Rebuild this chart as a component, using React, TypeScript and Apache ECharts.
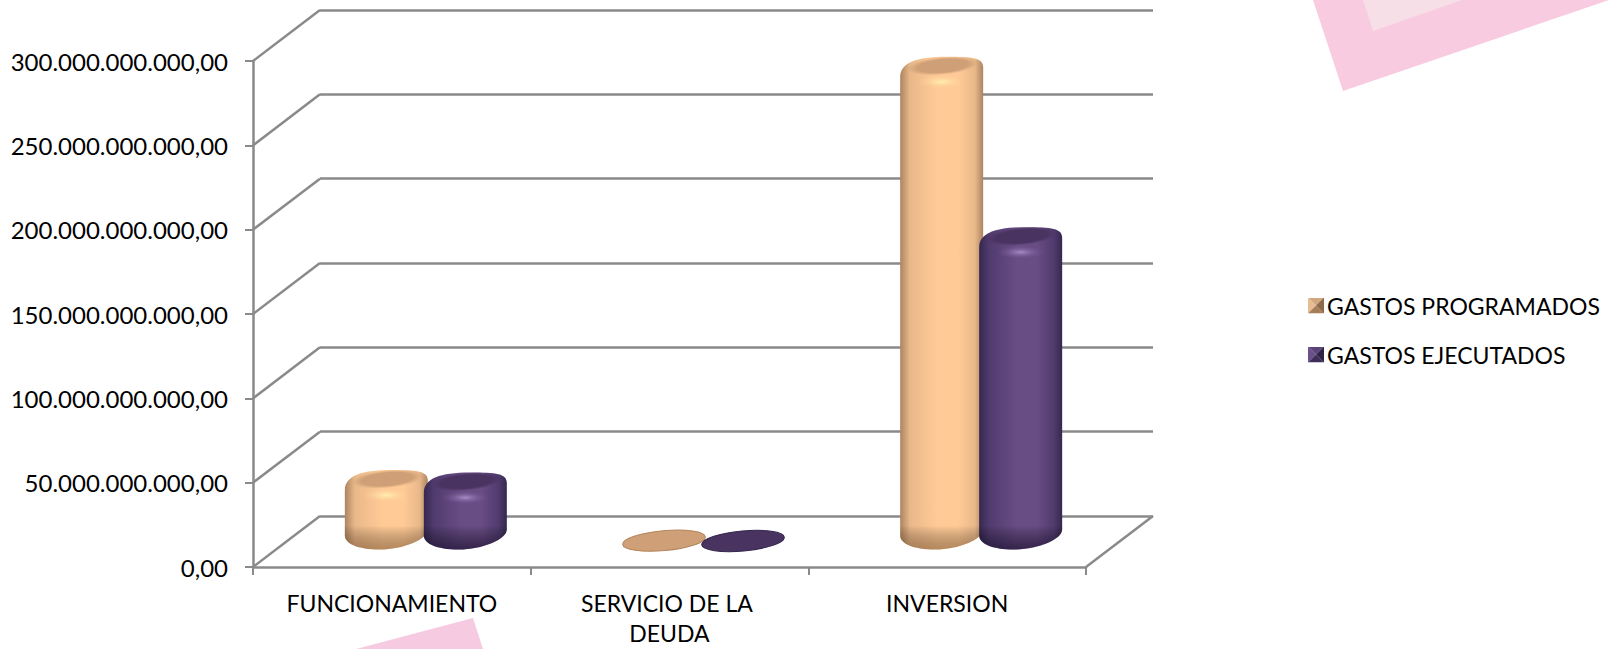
import React, { useEffect, useRef } from "react";
import * as echarts from "echarts";

const categories = ["FUNCIONAMIENTO", "SERVICIO DE LA DEUDA", "INVERSION"];
const programados = [37e9, 0.5e9, 282e9];
const ejecutados = [35.5e9, 0.3e9, 181e9];
const yTicks = [0, 50e9, 100e9, 150e9, 200e9, 250e9, 300e9];
const seriesNames = ["GASTOS PROGRAMADOS", "GASTOS EJECUTADOS"];

const FONT = "Lato";
const DEPTH_X = 67;
const DEPTH_Y = 51;
const BAR_W = 83;
const GRID_COLOR = "#8a8a8a";

const ORANGE = { edge: "#ad8460", mid: "#e9b88a", light: "#ffca96", cap: "#cfa077", hi: "#fff0b0", low: "rgba(110,70,35,0.5)", rim: "#b5855c" };
const PURPLE = { edge: "#35284f", mid: "#513b6e", light: "#684c84", cap: "#493360", hi: "#a78cc6", low: "rgba(20,10,40,0.6)", rim: "#33264d" };

echarts.graphic.registerShape(
  "cylBody",
  echarts.graphic.extendShape({
    shape: { L: 0, R: 0, yT: 0, yB: 0 },
    buildPath(ctx: any, s: any) {
      const w = s.R - s.L;
      const cx = (s.L + s.R) / 2;
      ctx.moveTo(s.L, s.yT + 11);
      ctx.bezierCurveTo(s.L, s.yT - 3, s.L + 0.2 * w, s.yT - 9, cx + 0.05 * w, s.yT - 9);
      ctx.bezierCurveTo(s.R - 0.12 * w, s.yT - 9, s.R, s.yT - 8, s.R, s.yT + 2);
      ctx.lineTo(s.R, s.yB - 12);
      ctx.bezierCurveTo(s.R, s.yB - 2, s.R - 0.3 * w, s.yB + 8, s.L + 0.42 * w, s.yB + 8);
      ctx.bezierCurveTo(s.L + 0.15 * w, s.yB + 8, s.L, s.yB + 2, s.L, s.yB - 6);
      ctx.closePath();
    },
  })
);

function bevelIcon(top: string, left: string, right: string, bottom: string) {
  const svg =
    `<svg xmlns="http://www.w3.org/2000/svg" width="16" height="16">` +
    `<polygon points="0,0 16,0 8,8" fill="${top}"/><polygon points="0,0 0,16 8,8" fill="${left}"/>` +
    `<polygon points="16,0 16,16 8,8" fill="${right}"/><polygon points="0,16 16,16 8,8" fill="${bottom}"/></svg>`;
  return "image://data:image/svg+xml," + encodeURIComponent(svg);
}

function fmt(v: number) {
  const s = String(Math.round(v)).replace(/\B(?=(\d{3})+$)/g, ".");
  return s + ",00";
}

function cylinder(side: number, pal: typeof ORANGE) {
  return (params: any, api: any) => {
    const i = api.value(0);
    const p = api.coord([i, api.value(1)]);
    const b = api.coord([i, 0]);
    const cx = p[0] + DEPTH_X / 2 + 0.5 + side * 39.5;
    const yT = p[1] - DEPTH_Y / 2;
    const yB = b[1] - DEPTH_Y / 2;
    const tilt = 0.09;
    if (yB - yT < 10) {
      return {
        type: "ellipse",
        x: cx,
        y: yT,
        rotation: tilt,
        shape: { cx: 0, cy: 0, rx: BAR_W / 2, ry: 10 },
        style: { fill: pal.cap, stroke: pal.rim, lineWidth: 1 },
      };
    }
    const L = cx - BAR_W / 2;
    const R = cx + BAR_W / 2;
    const h = yB - yT + 17;
    const bottomStart = Math.max(0, 1 - 24 / h);
    const topEnd = Math.min(1, 26 / h);
    return {
      type: "group",
      children: [
        {
          type: "cylBody",
          shape: { L, R, yT, yB },
          style: {
            fill: new echarts.graphic.LinearGradient(0, 0, 1, 0, [
              { offset: 0, color: pal.edge },
              { offset: 0.12, color: pal.mid },
              { offset: 0.45, color: pal.light },
              { offset: 0.7, color: pal.light },
              { offset: 0.9, color: pal.mid },
              { offset: 1, color: pal.edge },
            ]),
          },
        },
        {
          type: "cylBody",
          shape: { L, R, yT, yB },
          style: {
            fill: new echarts.graphic.LinearGradient(0, 0, 0, 1, [
              { offset: 0, color: "rgba(255,255,255,0)" },
              { offset: topEnd, color: "rgba(255,255,255,0)" },
              { offset: bottomStart, color: "rgba(0,0,0,0)" },
              { offset: 1, color: pal.low },
            ]),
          },
        },
        {
          type: "ellipse",
          x: cx,
          y: yT + 16,
          shape: { cx: 0, cy: 0, rx: BAR_W * 0.3, ry: 7 },
          style: {
            fill: new echarts.graphic.RadialGradient(0.5, 0.5, 0.5, [
              { offset: 0, color: pal.hi },
              { offset: 1, color: pal.light + "00" },
            ]),
          },
        },
        {
          type: "ellipse",
          x: cx + 1,
          y: yT,
          rotation: tilt,
          shape: { cx: 0, cy: 0, rx: BAR_W * 0.43, ry: 9 },
          style: {
            fill: new echarts.graphic.RadialGradient(0.5, 0.5, 0.5, [
              { offset: 0, color: pal.cap },
              { offset: 0.72, color: pal.cap },
              { offset: 1, color: pal.cap + "00" },
            ]),
          },
        },
      ],
    };
  };
}

function diagonal(params: any, api: any) {
  const p = api.coord([0, api.value(0)]);
  const x0 = params.coordSys.x;
  const lines: any[] = [
    {
      type: "line",
      shape: { x1: x0, y1: p[1], x2: x0 + DEPTH_X, y2: p[1] - DEPTH_Y },
      style: { stroke: GRID_COLOR, lineWidth: 2.5 },
    },
  ];
  if (api.value(0) === 0) {
    const xr = x0 + params.coordSys.width;
    lines.push({
      type: "line",
      shape: { x1: xr, y1: p[1], x2: xr + DEPTH_X, y2: p[1] - DEPTH_Y },
      style: { stroke: GRID_COLOR, lineWidth: 2.5 },
    });
  }
  return { type: "group", children: lines };
}

export default function App() {
  const ref = useRef<HTMLDivElement>(null);
  useEffect(() => {
    document.body.style.margin = "0";
    const chart = echarts.init(ref.current!, null, { renderer: "svg" });
    const axisLine = { lineStyle: { color: GRID_COLOR, width: 2.5 } };
    chart.setOption({
      animation: false,
      backgroundColor: "#ffffff",
      graphic: [
        { type: "polygon", z: -10, shape: { points: [[1313, 0], [1343, 91], [1609, 0]] }, style: { fill: "#f9cbe0" } },
        { type: "polygon", z: -9, shape: { points: [[1363, 0], [1373, 31], [1462, 0]] }, style: { fill: "#f6dfe6" } },
        { type: "polygon", z: -10, shape: { points: [[356, 649], [473, 618], [483, 649]] }, style: { fill: "#f6cbe2" } },
      ],
      grid: [
        { left: 253, top: 61, width: 833, height: 506, outerBoundsMode: "none" },
        { left: 253 + DEPTH_X, top: 61 - DEPTH_Y, width: 833, height: 506, outerBoundsMode: "none" },
      ],
      xAxis: [
        {
          type: "category",
          gridIndex: 0,
          data: categories,
          axisLine,
          axisTick: { show: true, length: 8, lineStyle: { color: GRID_COLOR, width: 2 } },
          axisLabel: {
            color: "#000",
            fontFamily: FONT,
            fontSize: 23,
            margin: 21,
            lineHeight: 30,
            width: 232,
            overflow: "break",
            interval: 0,
          },
        },
        { type: "category", gridIndex: 1, data: categories, show: false },
      ],
      yAxis: [
        {
          type: "value",
          gridIndex: 0,
          min: 0,
          max: 300e9,
          interval: 50e9,
          axisLine: { show: true, ...axisLine },
          axisTick: { show: true, length: 8, lineStyle: { color: GRID_COLOR, width: 2 } },
          splitLine: { show: false },
          axisLabel: { color: "#000", fontFamily: FONT, fontSize: 24, margin: 25, formatter: fmt },
        },
        {
          type: "value",
          gridIndex: 1,
          min: 0,
          max: 300e9,
          interval: 50e9,
          axisLine: { show: false },
          axisTick: { show: false },
          axisLabel: { show: false },
          splitLine: { show: true, lineStyle: { color: GRID_COLOR, width: 2.5 } },
        },
      ],
      legend: {
        orient: "vertical",
        left: 1303,
        top: 289,
        itemWidth: 16,
        itemHeight: 16,
        itemGap: 26,
        itemStyle: { borderWidth: 0 },
        textStyle: { color: "#000", fontFamily: FONT, fontSize: 23, padding: [0, 0, 0, -2] },
        data: [
          { name: seriesNames[0], icon: bevelIcon("#d2a680", "#e8bb90", "#8d6a4b", "#a77c58") },
          { name: seriesNames[1], icon: bevelIcon("#5a447a", "#6a5088", "#2f2346", "#3d2d58") },
        ],
      },
      series: [
        {
          type: "custom",
          name: "diagonales",
          coordinateSystem: "cartesian2d",
          xAxisIndex: 0,
          yAxisIndex: 0,
          silent: true,
          z: 1,
          clip: false,
          encode: { y: 0 },
          data: yTicks.map((v) => [v]),
          renderItem: diagonal,
        },
        {
          type: "custom",
          name: seriesNames[0],
          coordinateSystem: "cartesian2d",
          xAxisIndex: 0,
          yAxisIndex: 0,
          z: 3,
          clip: false,
          itemStyle: { color: ORANGE.mid },
          encode: { x: 0, y: 1 },
          data: programados.map((v, i) => [i, v]),
          renderItem: cylinder(-1, ORANGE),
        },
        {
          type: "custom",
          name: seriesNames[1],
          coordinateSystem: "cartesian2d",
          xAxisIndex: 0,
          yAxisIndex: 0,
          z: 4,
          clip: false,
          itemStyle: { color: PURPLE.mid },
          encode: { x: 0, y: 1 },
          data: ejecutados.map((v, i) => [i, v]),
          renderItem: cylinder(1, PURPLE),
        },
      ],
    });
    return () => chart.dispose();
  }, []);
  return <div ref={ref} style={{ position: "fixed", left: 0, top: 0, width: 1619, height: 649 }} />;
}
